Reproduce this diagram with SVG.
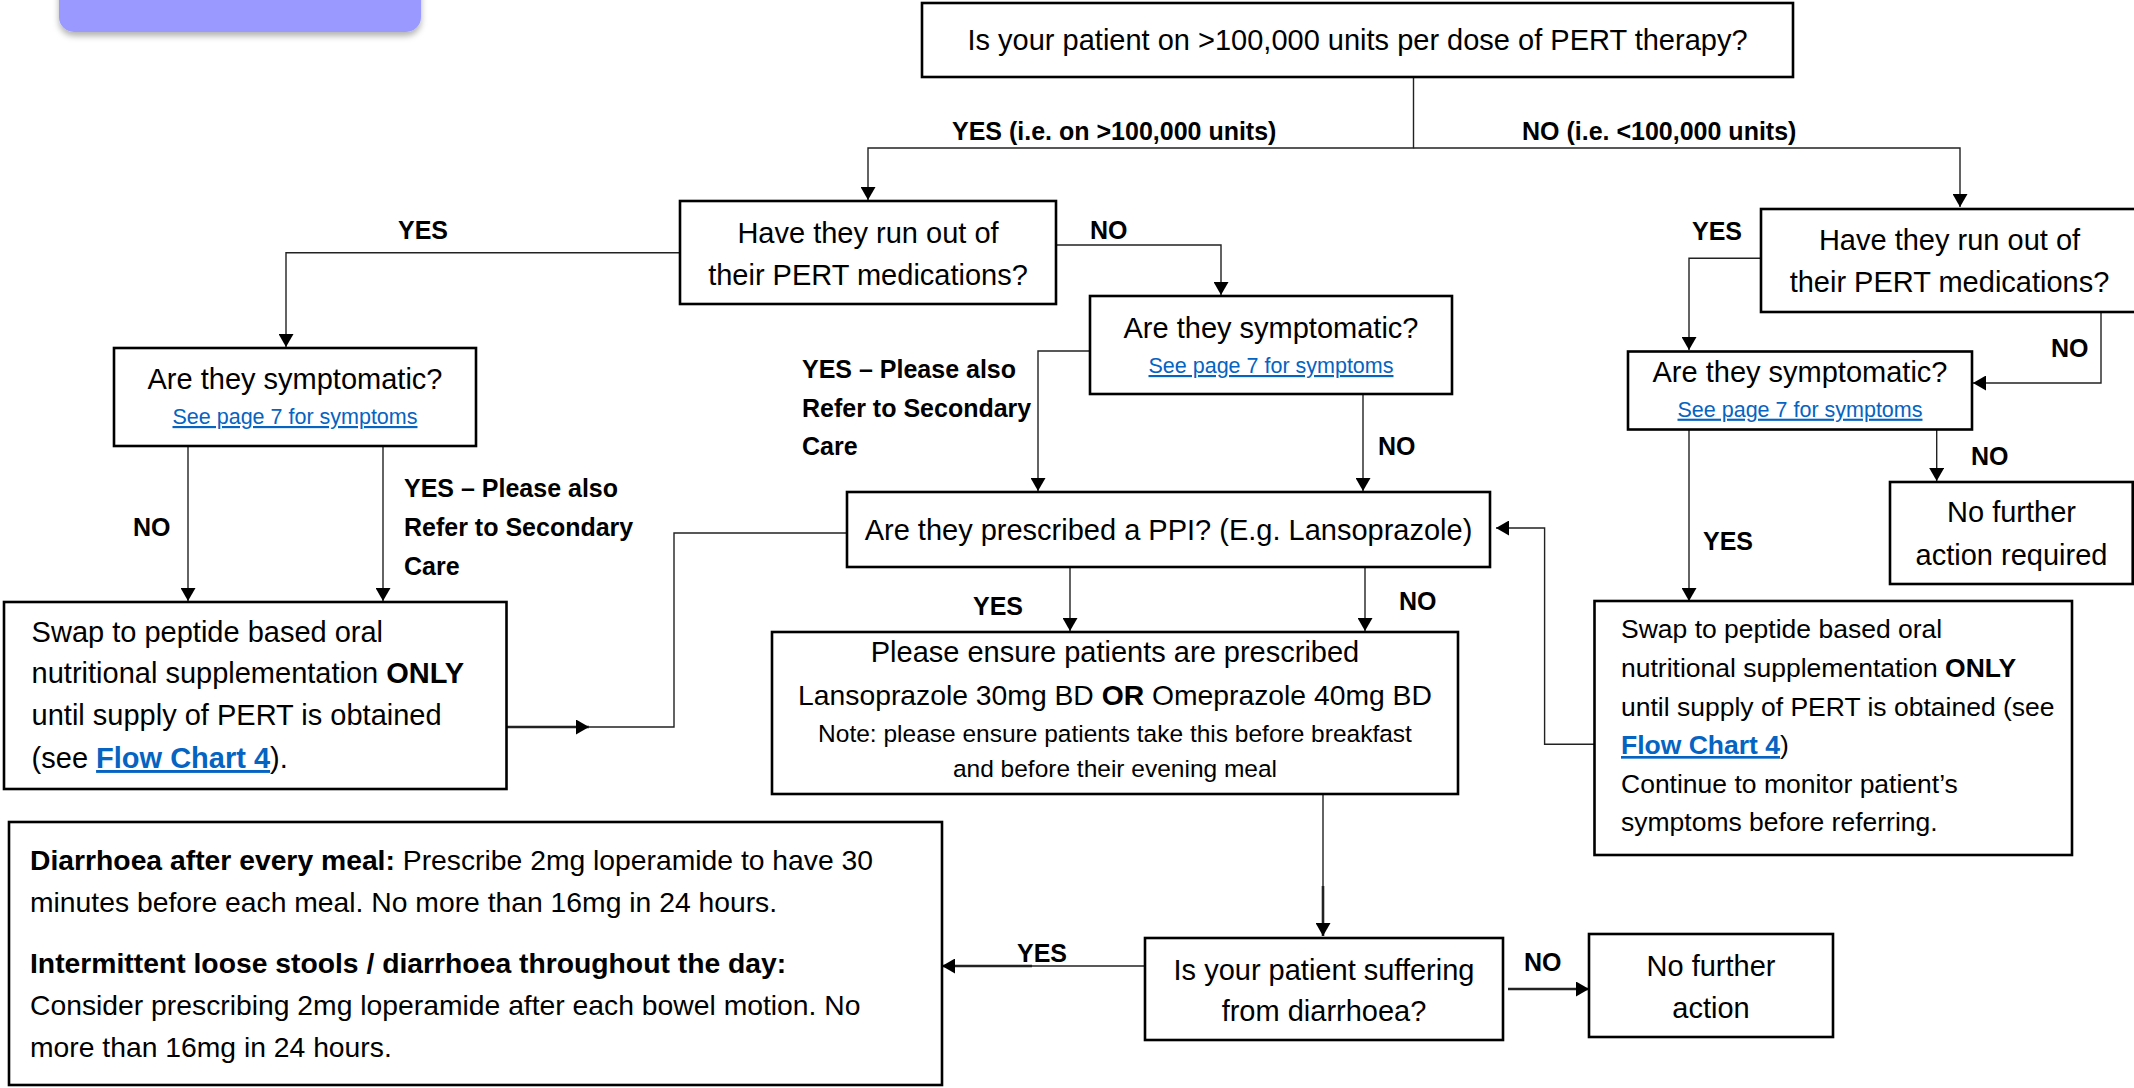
<svg xmlns="http://www.w3.org/2000/svg" width="2134" height="1088" viewBox="0 0 2134 1088">
<style>
.box{fill:#fff;stroke:#000;stroke-width:2.6}
text{font-family:"Liberation Sans",Arial,sans-serif;fill:#000}
.t{font-size:29px}
.c{text-anchor:middle}
.lbl{font-size:25px;font-weight:bold}
.lnk{font-size:21.5px;fill:#0563C1;text-decoration:underline}
.b{font-weight:bold}
.fc{font-weight:bold;fill:#0563C1;text-decoration:underline}
.note{font-size:24.5px}
#connectors path{fill:none;stroke:#222;stroke-width:1.4}
#connectors path.thick{stroke-width:2.6}
</style>
<defs>
<marker id="arr" markerUnits="userSpaceOnUse" markerWidth="14" markerHeight="15" refX="13" refY="7.5" orient="auto">
<path d="M0,0 L13,7.5 L0,15 z" fill="#000"/>
</marker>
<filter id="sh" x="-10%" y="-50%" width="120%" height="220%">
<feDropShadow dx="0" dy="4" stdDeviation="3" flood-color="#000" flood-opacity="0.3"/>
</filter>
</defs>
<rect width="2134" height="1088" fill="#fff"/>
<rect x="59" y="-30" width="362" height="62" rx="15" fill="#9999FF" filter="url(#sh)"/>

<g id="connectors">
<path d="M1413.5,77 V148 H868 V200" marker-end="url(#arr)"/>
<path d="M1413.5,148 H1960 V207" marker-end="url(#arr)"/>
<path d="M680,252.7 H286 V347" marker-end="url(#arr)"/>
<path d="M1056,245 H1221 V295" marker-end="url(#arr)"/>
<path d="M1090,351 H1038 V491" marker-end="url(#arr)"/>
<path d="M1363,394 V491" marker-end="url(#arr)"/>
<path d="M188,446 V601" marker-end="url(#arr)"/>
<path d="M383,446 V601" marker-end="url(#arr)"/>
<path class="thick" d="M506.5,727 H589" marker-end="url(#arr)"/>
<path d="M588,727 H674 V533 H847"/>
<path d="M1070,567 V631" marker-end="url(#arr)"/>
<path d="M1365,567 V631" marker-end="url(#arr)"/>
<path d="M1323,794 V888"/>
<path class="thick" d="M1323,886 V936" marker-end="url(#arr)"/>
<path d="M1145,966 H1030"/>
<path class="thick" d="M1032,966 H942" marker-end="url(#arr)"/>
<path class="thick" d="M1508,989 H1589" marker-end="url(#arr)"/>
<path d="M1761,258.3 H1689 V350" marker-end="url(#arr)"/>
<path d="M2101,312 V383 H1973" marker-end="url(#arr)"/>
<path d="M1689,429.5 V601" marker-end="url(#arr)"/>
<path d="M1936.7,429.5 V481" marker-end="url(#arr)"/>
<path d="M1594.5,744.3 H1544.6 V528 H1496" marker-end="url(#arr)"/>
</g>

<g id="edge-labels">
<text class="lbl" x="952" y="140">YES (i.e. on &gt;100,000 units)</text>
<text class="lbl" x="1522" y="140">NO (i.e. &lt;100,000 units)</text>
<text class="lbl" x="398" y="239">YES</text>
<text class="lbl" x="1090" y="239">NO</text>
<text class="lbl" x="802" y="378">YES – Please also</text>
<text class="lbl" x="802" y="416.5">Refer to Secondary</text>
<text class="lbl" x="802" y="455">Care</text>
<text class="lbl" x="1378" y="455">NO</text>
<text class="lbl" x="133" y="536">NO</text>
<text class="lbl" x="404" y="497">YES – Please also</text>
<text class="lbl" x="404" y="536">Refer to Secondary</text>
<text class="lbl" x="404" y="575">Care</text>
<text class="lbl" x="973" y="615">YES</text>
<text class="lbl" x="1399" y="610">NO</text>
<text class="lbl" x="1017" y="961.5">YES</text>
<text class="lbl" x="1524" y="970.5">NO</text>
<text class="lbl" x="1692" y="240">YES</text>
<text class="lbl" x="2051" y="356.5">NO</text>
<text class="lbl" x="1703" y="550">YES</text>
<text class="lbl" x="1971" y="465">NO</text>
</g>

<g id="n-start">
<rect class="box" x="922" y="3" width="871" height="74"/>
<text class="t c" x="1357.5" y="50">Is your patient on &gt;100,000 units per dose of PERT therapy?</text>
</g>

<g id="n-runout-left">
<rect class="box" x="680" y="201" width="376" height="103"/>
<text class="t c" x="868" y="242.5">Have they run out of</text>
<text class="t c" x="868" y="285">their PERT medications?</text>
</g>

<g id="n-symp-left">
<rect class="box" x="114" y="348" width="362" height="98"/>
<text class="t c" x="295" y="389">Are they symptomatic?</text>
<text class="lnk c" x="295" y="424">See page 7 for symptoms</text>
</g>

<g id="n-symp-mid">
<rect class="box" x="1090" y="296" width="362" height="98"/>
<text class="t c" x="1271" y="338">Are they symptomatic?</text>
<text class="lnk c" x="1271" y="373">See page 7 for symptoms</text>
</g>

<g id="n-swap-left">
<rect class="box" x="4" y="602" width="502.5" height="187"/>
<text class="t" x="31.6" y="641.7">Swap to peptide based oral</text>
<text class="t" x="31.6" y="683">nutritional supplementation <tspan class="b">ONLY</tspan></text>
<text class="t" x="31.6" y="725">until supply of PERT is obtained</text>
<text class="t" x="31.6" y="768">(see <tspan class="fc">Flow Chart 4</tspan>).</text>
</g>

<g id="n-ppi">
<rect class="box" x="847" y="492" width="643" height="75"/>
<text class="t c" x="1168.5" y="540">Are they prescribed a PPI? (E.g. Lansoprazole)</text>
</g>

<g id="n-ensure">
<rect class="box" x="772" y="632" width="686" height="162"/>
<text class="t c" x="1115" y="661.7">Please ensure patients are prescribed</text>
<text class="c" x="1115" y="705" font-size="28.3">Lansoprazole 30mg BD <tspan class="b">OR</tspan> Omeprazole 40mg BD</text>
<text class="note c" x="1115" y="741.7">Note: please ensure patients take this before breakfast</text>
<text class="note c" x="1115" y="776.7">and before their evening meal</text>
</g>

<g id="n-diarrhoea">
<rect class="box" x="1145" y="938" width="358" height="102"/>
<text class="t c" x="1324" y="980">Is your patient suffering</text>
<text class="t c" x="1324" y="1021">from diarrhoea?</text>
</g>

<g id="n-nofurther-bottom">
<rect class="box" x="1589" y="934" width="244" height="103"/>
<text class="t c" x="1711" y="976">No further</text>
<text class="t c" x="1711" y="1018">action</text>
</g>

<g id="n-loperamide">
<rect class="box" x="9" y="822" width="933" height="263"/>
<text x="30" y="870" font-size="28.3"><tspan class="b">Diarrhoea after every meal:</tspan> Prescribe 2mg loperamide to have 30</text>
<text x="30" y="911.7" font-size="28.3">minutes before each meal. No more than 16mg in 24 hours.</text>
<text x="30" y="973" font-size="28.3" class="b">Intermittent loose stools / diarrhoea throughout the day:</text>
<text x="30" y="1015" font-size="28.3">Consider prescribing 2mg loperamide after each bowel motion. No</text>
<text x="30" y="1056.7" font-size="28.3">more than 16mg in 24 hours.</text>
</g>

<g id="n-runout-right">
<rect class="box" x="1761" y="209" width="380" height="103"/>
<text class="t c" x="1949.5" y="250">Have they run out of</text>
<text class="t c" x="1949.5" y="291.7">their PERT medications?</text>
</g>

<g id="n-symp-right">
<rect class="box" x="1628" y="351.5" width="344" height="78"/>
<text class="t c" x="1800" y="382">Are they symptomatic?</text>
<text class="lnk c" x="1800" y="416.7">See page 7 for symptoms</text>
</g>

<g id="n-nofurther-right">
<rect class="box" x="1890" y="482" width="242.7" height="102"/>
<text class="t c" x="2011.5" y="521.7">No further</text>
<text class="t c" x="2011.5" y="565">action required</text>
</g>

<g id="n-swap-right">
<rect class="box" x="1594.5" y="601" width="477.5" height="254"/>
<text x="1621" y="638" font-size="26.5">Swap to peptide based oral</text>
<text x="1621" y="677" font-size="26.5">nutritional supplementation <tspan class="b">ONLY</tspan></text>
<text x="1621" y="716" font-size="26.5">until supply of PERT is obtained (see</text>
<text x="1621" y="754" font-size="26.5"><tspan class="fc">Flow Chart 4</tspan>)</text>
<text x="1621" y="793" font-size="26.5">Continue to monitor patient’s</text>
<text x="1621" y="831" font-size="26.5">symptoms before referring.</text>
</g>
</svg>
